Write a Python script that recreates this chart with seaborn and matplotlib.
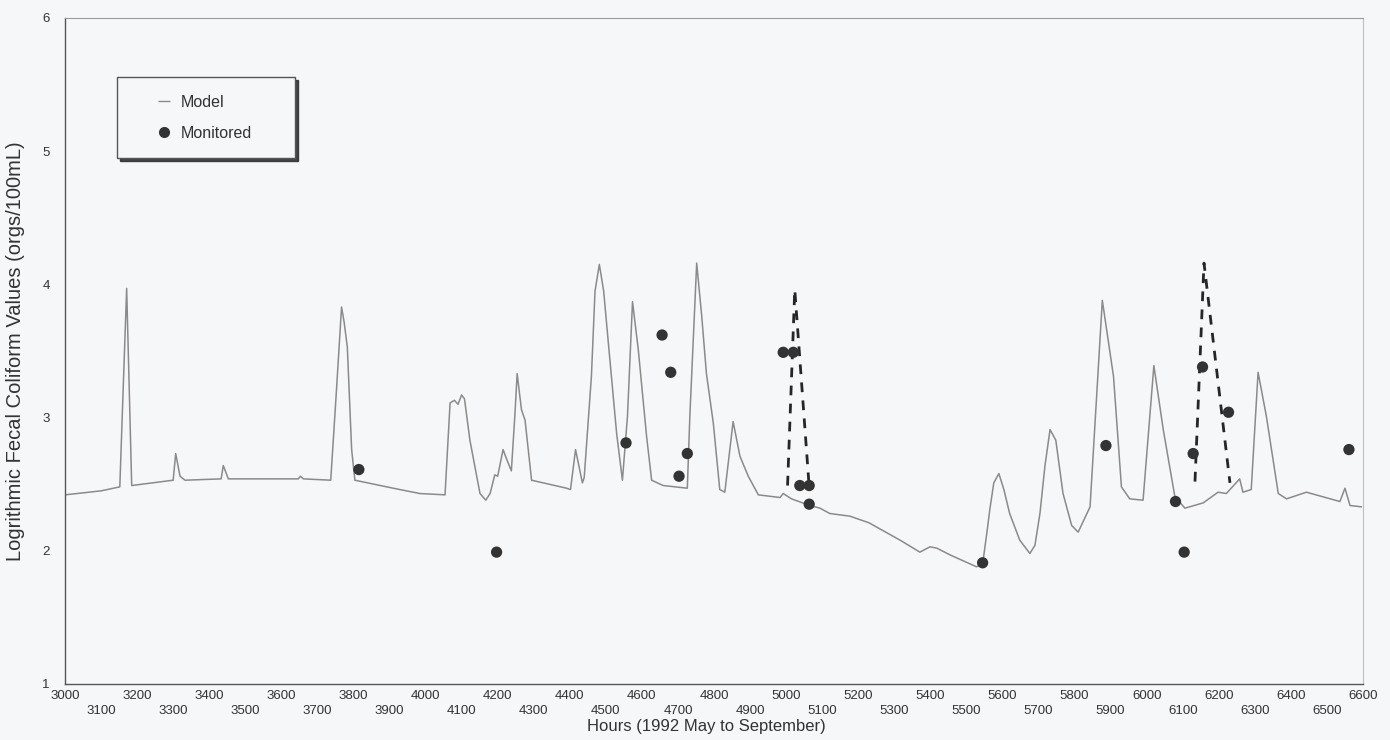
import matplotlib
matplotlib.use("Agg")
import matplotlib.pyplot as plt
from matplotlib.lines import Line2D
import seaborn as sns

# Model curve
model_hours = [3000, 3100, 3152, 3171, 3185, 3300, 3307, 3319, 3333, 3433, 3439, 3453,
               3647, 3653, 3661, 3737, 3753, 3767, 3774, 3783, 3795, 3804, 3910, 3984,
               4054, 4068, 4080, 4090, 4100, 4108, 4123, 4151, 4167, 4179, 4192, 4200,
               4215, 4226, 4238, 4248, 4254, 4266, 4276, 4294, 4391, 4402, 4416, 4435,
               4440, 4460, 4470, 4482, 4494, 4507, 4530, 4546, 4560, 4574, 4590, 4613,
               4627, 4659, 4726, 4733, 4752, 4766, 4779, 4798, 4816, 4830, 4853, 4872,
               4895, 4923, 4983, 4992, 5015, 5066, 5094, 5121, 5177, 5230, 5316, 5371,
               5399, 5418, 5454, 5528, 5545, 5558, 5565, 5576, 5590, 5604, 5620, 5648,
               5676, 5690, 5704, 5718, 5732, 5748, 5768, 5792, 5810, 5843, 5877, 5908,
               5930, 5953, 5990, 6020, 6046, 6078, 6106, 6157, 6198, 6221, 6258, 6267,
               6290, 6309, 6332, 6365, 6388, 6443, 6536, 6550, 6564, 6596]
model_values = [2.42, 2.45, 2.48, 3.97, 2.49, 2.53, 2.73, 2.56, 2.53, 2.54, 2.64, 2.54,
                2.54, 2.56, 2.54, 2.53, 3.21, 3.83, 3.72, 3.53, 2.76, 2.53, 2.47, 2.43,
                2.42, 3.11, 3.13, 3.10, 3.17, 3.14, 2.83, 2.43, 2.38, 2.43, 2.57, 2.56,
                2.76, 2.68, 2.60, 3.03, 3.33, 3.06, 2.98, 2.53, 2.47, 2.46, 2.76, 2.51,
                2.55, 3.31, 3.95, 4.15, 3.95, 3.56, 2.88, 2.53, 3.01, 3.87, 3.51, 2.86,
                2.53, 2.49, 2.47, 3.01, 4.16, 3.76, 3.33, 2.96, 2.46, 2.44, 2.97, 2.71,
                2.56, 2.42, 2.40, 2.43, 2.39, 2.34, 2.32, 2.28, 2.26, 2.21, 2.08, 1.99,
                2.03, 2.02, 1.97, 1.88, 1.90, 2.16, 2.31, 2.51, 2.58, 2.46, 2.28, 2.08,
                1.98, 2.04, 2.28, 2.64, 2.91, 2.83, 2.43, 2.19, 2.14, 2.33, 3.88, 3.31,
                2.48, 2.39, 2.38, 3.39, 2.91, 2.41, 2.32, 2.36, 2.44, 2.43, 2.54, 2.44,
                2.46, 3.34, 3.01, 2.43, 2.39, 2.44, 2.37, 2.47, 2.34, 2.33]

# dashed storm peaks
storm1_hours = [5004, 5024, 5064]
storm1_values = [2.49, 3.96, 2.48]
storm2_hours = [6134, 6159, 6231]
storm2_values = [2.52, 4.16, 2.51]

# monitored samples
monitored_hours = [3815, 4197, 4556, 4656, 4680, 4703, 4726, 4992, 5020, 5038,
                   5064, 5064, 5545, 5887, 6080, 6104, 6129, 6155, 6227, 6561]
monitored_values = [2.61, 1.99, 2.81, 3.62, 3.34, 2.56, 2.73, 3.49, 3.49, 2.49,
                    2.49, 2.35, 1.91, 2.79, 2.37, 1.99, 2.73, 3.38, 3.04, 2.76]

x_major = list(range(3000, 6601, 200))
x_minor = list(range(3100, 6600, 200))
y_ticks = [1, 2, 3, 4, 5, 6]

sns.set_style("white")
plt.rcParams['font.family'] = ['Liberation Sans', 'DejaVu Sans']

bg = '#f6f7f9'
fig = plt.figure(figsize=(13.9, 7.4), dpi=100, facecolor=bg)
ax = fig.add_axes([65 / 1390, 56 / 740, 1298 / 1390, 666 / 740])
ax.set_facecolor(bg)

sns.lineplot(x=model_hours, y=model_values, ax=ax, color='#8a8a8a', linewidth=1.1)
sns.lineplot(x=storm1_hours, y=storm1_values, ax=ax, color='#262626', linewidth=2,
             linestyle=(0, (3.5, 3)))
sns.lineplot(x=storm2_hours, y=storm2_values, ax=ax, color='#262626', linewidth=2,
             linestyle=(0, (3.5, 3)))
sns.scatterplot(x=monitored_hours, y=monitored_values, ax=ax, color='#333333', s=66,
                edgecolor='none', zorder=5)

ax.set_xlim(3000, 6600)
ax.set_ylim(1, 6)
ax.set_xticks(x_major, labels=[str(v) for v in x_major])
ax.set_xticks(x_minor, labels=[str(v) for v in x_minor], minor=True)
ax.set_yticks(y_ticks, labels=[str(v) for v in y_ticks])
ax.tick_params(axis='x', which='both', direction='in', length=9, width=0.8,
               color='#666666', labelsize=9.5, labelcolor='#333333')
ax.tick_params(axis='x', which='major', pad=4)
ax.tick_params(axis='x', which='minor', pad=15)
ax.tick_params(axis='y', direction='in', length=13, width=0.8, color='#666666',
               labelsize=9.5, labelcolor='#333333', pad=11)

for side in ['left', 'bottom']:
    ax.spines[side].set_color('#555555')
    ax.spines[side].set_linewidth(1)
ax.spines['top'].set_color('#9a9a9a')
ax.spines['top'].set_linewidth(0.8)
ax.spines['right'].set_color('#c0c0c0')
ax.spines['right'].set_linewidth(0.8)

ax.set_xlabel('Hours (1992 May to September)', fontsize=12, color='#333333')
ax.set_ylabel('Logrithmic Fecal Coliform Values (orgs/100mL)', fontsize=14.5, color='#333333')
ax.xaxis.set_label_coords(0.494, -0.052)
ax.yaxis.set_label_coords(-0.031, 0.5)

model_handle = Line2D([], [], color='#8a8a8a', marker='_', markersize=9,
                      markeredgewidth=1, linestyle='none')
mon_handle = Line2D([], [], color='#333333', marker='o', markersize=8,
                    markeredgewidth=0, linestyle='none')
leg = ax.legend([model_handle, mon_handle], ['Model', 'Monitored'],
                loc='upper left', bbox_to_anchor=(0.040, 0.5, 0.137, 0.411),
                mode='expand', borderaxespad=0, fontsize=11.5, frameon=True,
                fancybox=False, shadow={'shade': 0.8, 'alpha': 0.9},
                borderpad=1.1, handlelength=3.7, handletextpad=-0.8,
                labelspacing=1.0, edgecolor='#555555', facecolor=bg, framealpha=1)
for t in leg.get_texts():
    t.set_color('#333333')

fig.savefig('out.png', dpi=100, facecolor=bg)
